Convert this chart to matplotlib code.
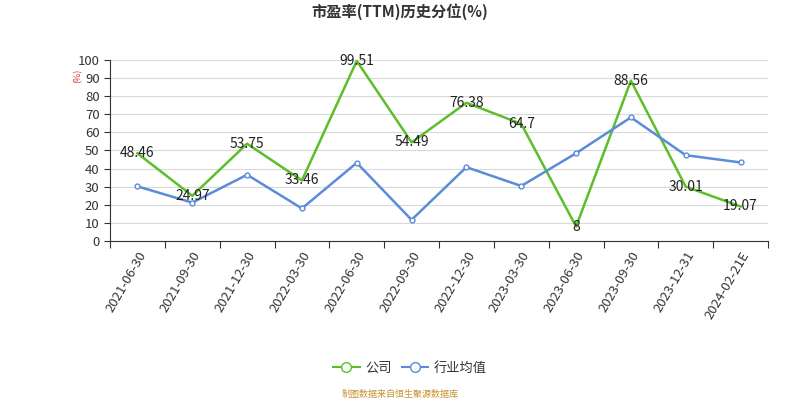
import matplotlib
matplotlib.use("Agg")
import matplotlib.pyplot as plt
from matplotlib.lines import Line2D

plt.rcParams['font.family'] = ['Noto Sans CJK SC', 'DejaVu Sans']

dates = ['2021-06-30', '2021-09-30', '2021-12-30', '2022-03-30', '2022-06-30',
         '2022-09-30', '2022-12-30', '2023-03-30', '2023-06-30', '2023-09-30',
         '2023-12-31', '2024-02-21E']
company = [48.46, 24.97, 53.75, 33.46, 99.51, 54.49, 76.38, 64.7, 8, 88.56, 30.01, 19.07]
company_labels = ['48.46', '24.97', '53.75', '33.46', '99.51', '54.49', '76.38', '64.7',
                  '8', '88.56', '30.01', '19.07']
industry = [30.2, 21.2, 36.6, 18.0, 43.2, 11.7, 40.8, 30.4, 48.5, 68.3, 47.4, 43.4]

green = '#5cbf2a'
blue = '#5b8bd9'

fig = plt.figure(figsize=(8, 4), dpi=100)
ax = fig.add_axes([0.1375, 0.3975, 0.8225, 0.4525])

x = list(range(len(dates)))
ax.plot(x, company, color=green, lw=1.8, zorder=3)
ax.plot(x, industry, color=blue, lw=1.8, marker='o', ms=3.5,
        mfc='white', mec=blue, mew=1, zorder=3)
for xi, v, lab in zip(x, company, company_labels):
    ax.text(xi, v, lab, ha='center', va='center', fontsize=10, color='#222222', zorder=4)

ax.set_xlim(-0.5, len(dates) - 0.5)
ax.set_ylim(0, 100)
ax.set_yticks(range(0, 101, 10))
ax.tick_params(axis='y', labelsize=9.5, colors='#333333', length=4, width=0.8)
ax.yaxis.grid(True, color='#d9d9d9', lw=0.8)
ax.set_axisbelow(True)

ax.set_xticks(x)
ax.set_xticklabels(dates, rotation=60, ha='right', rotation_mode='anchor',
                   fontsize=9.5, color='#333333')
ax.tick_params(axis='x', length=0, pad=6)
ax.set_xticks([i - 0.5 for i in range(len(dates) + 1)], minor=True)
ax.tick_params(axis='x', which='minor', length=5, width=0.8, color='#333333')

for s in ['top', 'right']:
    ax.spines[s].set_visible(False)
ax.spines['left'].set_color('#333333')
ax.spines['bottom'].set_color('#333333')

fig.text(0.0975, 0.81, '(%)', color='#e03030', fontsize=6.5, rotation=90,
         ha='center', va='center')
fig.text(0.5, 0.97, '市盈率(TTM)历史分位(%)', ha='center', va='center',
         fontsize=11, fontweight='bold', color='#333333')

handles = [
    Line2D([0], [0], color=green, lw=1.5, marker='o', ms=7, mfc='white', mec=green),
    Line2D([0], [0], color=blue, lw=1.5, marker='o', ms=7, mfc='white', mec=blue),
]
fig.legend(handles, ['公司', '行业均值'], loc='center', bbox_to_anchor=(0.5125, 0.08),
           ncol=2, frameon=False, fontsize=9.5, handlelength=2.0,
           columnspacing=0.8, handletextpad=0.4, labelcolor='#333333')

fig.text(0.5, 0.015, '制图数据来自恒生聚源数据库', ha='center', va='center',
         fontsize=6.5, color='#c8902f')

fig.savefig('out.png', dpi=100)
